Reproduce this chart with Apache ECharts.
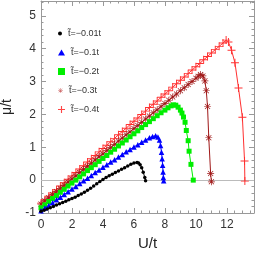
<!DOCTYPE html>
<html><head><meta charset="utf-8">
<script src="https://cdn.jsdelivr.net/npm/echarts@6/dist/echarts.min.js"></script>
<style>html,body{margin:0;padding:0;background:#fff}#c{width:256px;height:256px}</style>
</head><body><div id="c"></div>
<script>
// ---- data ----
const names = ['t\u0303=\u22120.01t','t\u0303=\u22120.1t','t\u0303=\u22120.2t','t\u0303=\u22120.3t','t\u0303=\u22120.4t'];
const xTicks = [0,2,4,6,8,10,12];
const yTicks = [-1,0,1,2,3,4,5];

const uBlack = [0,0.2,0.4,0.6,0.8,1.0,1.2,1.4,1.6,1.8,2.0,2.2,2.4,2.6,2.8,3.0,3.2,3.4,3.6,3.8,4.0,4.2,4.4,4.6,4.8,5.0,5.2,5.4,5.6,5.8,6.0,6.2,6.3,6.4,6.5,6.6,6.7,6.75];
const muBlack = [-0.95,-0.92,-0.88,-0.84,-0.80,-0.76,-0.72,-0.68,-0.64,-0.60,-0.56,-0.52,-0.47,-0.42,-0.37,-0.31,-0.25,-0.18,-0.11,-0.04,0.02,0.08,0.13,0.18,0.23,0.28,0.33,0.38,0.43,0.48,0.52,0.54,0.52,0.47,0.38,0.24,0.08,-0.02];

const uBlue = [0,0.25,0.5,0.75,1.0,1.25,1.5,1.75,2.0,2.25,2.5,2.75,3.0,3.25,3.5,3.75,4.0,4.25,4.5,4.75,5.0,5.25,5.5,5.75,6.0,6.25,6.5,6.75,7.0,7.2,7.4,7.55,7.65,7.72,7.78,7.82,7.85,7.88,7.9,7.92];
const muBlue = [-0.93,-0.85,-0.77,-0.69,-0.60,-0.52,-0.44,-0.35,-0.27,-0.19,-0.10,-0.02,0.06,0.14,0.23,0.31,0.39,0.47,0.55,0.62,0.70,0.78,0.86,0.93,1.01,1.08,1.15,1.22,1.29,1.33,1.35,1.31,1.22,1.05,0.85,0.65,0.45,0.25,0.08,-0.02];

const uGreen = [0,0.25,0.5,0.75,1.0,1.25,1.5,1.75,2.0,2.25,2.5,2.75,3.0,3.25,3.5,3.75,4.0,4.25,4.5,4.75,5.0,5.25,5.5,5.75,6.0,6.25,6.5,6.75,7.0,7.25,7.5,7.75,8.0,8.2,8.4,8.55,8.7,8.85,9.0,9.1,9.2,9.3,9.38,9.5,9.56,9.68,9.83];
const muGreen = [-0.84,-0.75,-0.65,-0.56,-0.47,-0.37,-0.28,-0.18,-0.09,0.00,0.10,0.19,0.29,0.38,0.47,0.57,0.66,0.75,0.85,0.94,1.04,1.13,1.22,1.32,1.41,1.50,1.60,1.69,1.78,1.87,1.96,2.05,2.13,2.20,2.26,2.29,2.28,2.22,2.13,2.04,1.92,1.76,1.51,1.20,0.88,0.48,0.00];

const uBrown = [0,0.25,0.5,0.75,1.0,1.25,1.5,1.75,2.0,2.25,2.5,2.75,3.0,3.25,3.5,3.75,4.0,4.25,4.5,4.75,5.0,5.25,5.5,5.75,6.0,6.25,6.5,6.75,7.0,7.25,7.5,7.75,8.0,8.25,8.5,8.75,9.0,9.25,9.5,9.75,10.0,10.15,10.3,10.45,10.58,10.67,10.75,10.83,10.95,11.0];
const muBrown = [-0.73,-0.63,-0.54,-0.44,-0.35,-0.25,-0.16,-0.06,0.04,0.13,0.23,0.32,0.42,0.51,0.61,0.71,0.80,0.90,0.99,1.09,1.19,1.28,1.38,1.47,1.57,1.66,1.76,1.86,1.95,2.05,2.14,2.24,2.33,2.43,2.53,2.62,2.72,2.81,2.91,3.00,3.10,3.16,3.21,3.17,3.02,2.72,2.24,1.29,0.20,-0.05];

const uRed = [0,0.25,0.5,0.75,1.0,1.25,1.5,1.75,2.0,2.25,2.5,2.75,3.0,3.25,3.5,3.75,4.0,4.25,4.5,4.75,5.0,5.25,5.5,5.75,6.0,6.25,6.5,6.75,7.0,7.25,7.5,7.75,8.0,8.25,8.5,8.75,9.0,9.25,9.5,9.75,10.0,10.25,10.5,10.75,11.0,11.25,11.5,11.75,11.95,12.1,12.3,12.52,12.75,13.0,13.14,13.16];
const muRed = [-0.70,-0.60,-0.49,-0.39,-0.29,-0.18,-0.08,0.03,0.13,0.23,0.34,0.44,0.55,0.65,0.75,0.86,0.96,1.06,1.17,1.27,1.38,1.48,1.58,1.69,1.79,1.89,2.00,2.10,2.21,2.31,2.41,2.52,2.62,2.72,2.83,2.93,3.04,3.14,3.24,3.35,3.45,3.55,3.66,3.76,3.87,3.97,4.07,4.17,4.26,4.20,3.95,3.57,2.80,1.91,0.58,-0.03];

// ---- chart ----
const pair = (u, m) => u.map((x, i) => [x, m[i]]);
const PLUS = 'path://M4.4,0h1.2v4.4h4.4v1.2h-4.4v4.4h-1.2v-4.4h-4.4v-1.2h4.4z';
const PLUS_L = 'path://M4.2,0h1.6v4.2h4.2v1.6h-4.2v4.2h-1.6v-4.2h-4.2v-1.6h4.2z';
const AST = 'path://M0,4.5h10v1h-10zM4.5,0h1v10h-1zM1,1.7L1.7,1L9,8.3L8.3,9zM8.3,1L9,1.7L1.7,9L1,8.3z';
const colors = ['#000000','#0000ff','#00ee00','#a01818','#ff3030'];
const legendColors = ['#000000','#0000ff','#00ee00','#d07070','#ff4545'];
const symbols = ['circle','triangle','rect',AST,PLUS];
const legendIcons = ['circle','triangle','rect',AST,PLUS_L];
const sizes = [3.5,5.5,5,7,8];
const legendSizes = [[4,4],[7,6],[7,7],[5,5],[7,7]];
const legendTops = [24,43,62,81,100];
const datasets = [pair(uBlack,muBlack),pair(uBlue,muBlue),pair(uGreen,muGreen),pair(uBrown,muBrown),pair(uRed,muRed)];

const font = 'Liberation Sans, Arial, sans-serif';
const tickCol = '#999';
function ax(extra, split) {
  return Object.assign({
    type:'value',
    axisLine:{show:true, onZero:false, lineStyle:{color:tickCol, width:1}},
    splitLine:{show:false},
    axisTick:{show:true, inside:true, length:5, lineStyle:{color:tickCol}},
    minorTick:{show:true, splitNumber:split, length:2.5, lineStyle:{color:tickCol}}
  }, extra);
}

const chart = echarts.init(document.getElementById('c'), null, {renderer:'canvas'});
chart.setOption({
  animation:false,
  backgroundColor:'#fff',
  grid:{left:41, right:2, top:1, bottom:43, containLabel:false, outerBoundsMode:'none'},
  xAxis:[
    ax({position:'bottom', min:0, max:13.75, interval:2,
      name:'U/t', nameLocation:'middle', nameGap:21,
      nameTextStyle:{fontSize:15, color:'#222', fontFamily:font},
      axisLabel:{fontSize:12, color:'#333', fontFamily:font, margin:6, showMaxLabel:false,
        formatter:v => xTicks.includes(v) ? String(v) : ''}}, 4),
    ax({position:'top', min:0, max:13.75, interval:2, axisLabel:{show:false}}, 4)
  ],
  yAxis:[
    ax({position:'left', min:-1, max:5.45, interval:1,
      name:'\u03bc/t', nameLocation:'middle', nameGap:22, nameRotate:90,
      nameTextStyle:{fontSize:14, color:'#222', fontFamily:font},
      axisLabel:{fontSize:12, color:'#333', fontFamily:font, margin:5, showMaxLabel:false,
        formatter:v => yTicks.includes(v) ? String(v) : ''}}, 5),
    ax({position:'right', min:-1, max:5.45, interval:1, axisLabel:{show:false}}, 5)
  ],
  legend: names.map((n, i) => ({
    show:true, orient:'vertical', left:53, top:legendTops[i],
    itemWidth:legendSizes[i][0], itemHeight:legendSizes[i][1], itemGap:0,
    textStyle:{fontSize:9, color:'#333', fontFamily:font, padding:[0,0,0,1]},
    selectedMode:false,
    itemStyle:{color:legendColors[i], borderWidth:0, opacity:1},
    lineStyle:{width:0, opacity:0},
    data:[{name:n, icon:legendIcons[i], itemStyle:{color:legendColors[i], borderWidth:0, opacity:1}}]
  })),
  series: datasets.map((d, i) => ({
    name:names[i], type:'line', data:d, xAxisIndex:0, yAxisIndex:0,
    symbol:symbols[i], symbolSize:sizes[i], showAllSymbol:true,
    lineStyle:{color:colors[i], width:1},
    itemStyle:{color:colors[i], borderWidth:0},
    z: 10 - i,
    markLine: i === 0 ? {silent:true, symbol:'none', label:{show:false},
      lineStyle:{color:'#bbb', width:1, type:'solid'}, data:[{yAxis:0}]} : undefined
  }))
});
</script></body></html>
